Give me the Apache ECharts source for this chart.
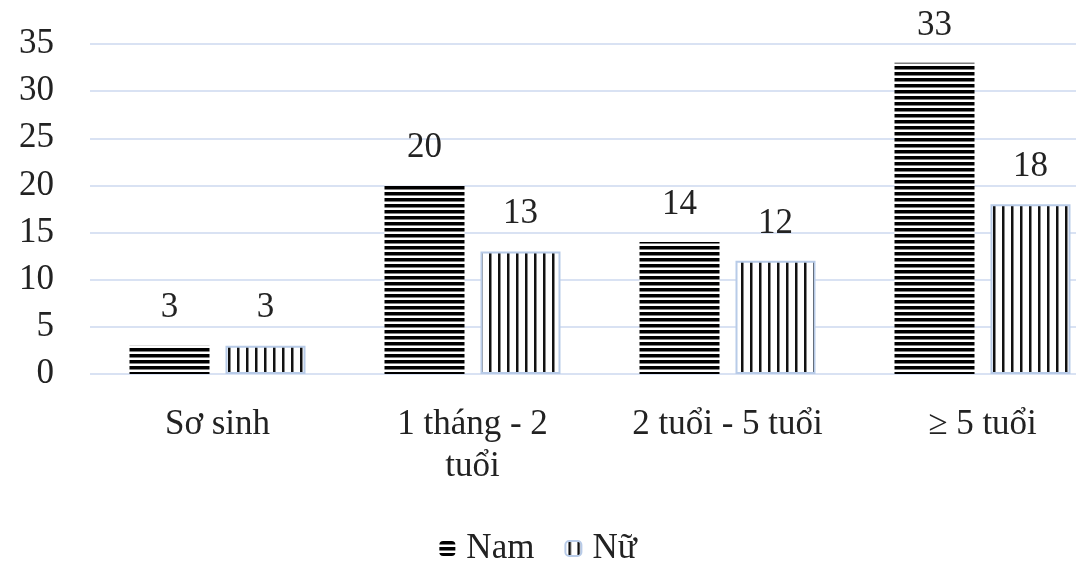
<!DOCTYPE html>
<html><head><meta charset="utf-8">
<script src="https://cdn.jsdelivr.net/npm/echarts@6/dist/echarts.min.js"></script>
<style>html,body{margin:0;padding:0;background:#fff;overflow:hidden}#c{width:1076px;height:561px}</style>
</head><body><div id="c"></div>
<script>
const categories = ['Sơ sinh', '1 tháng - 2\ntuổi', '2 tuổi - 5 tuổi', '≥ 5 tuổi'];
const namValues = [3, 20, 14, 33];
const nuValues = [3, 13, 12, 18];
const seriesNames = ['Nam', 'Nữ'];

function hPattern() {
  const c = document.createElement('canvas');
  c.width = 8; c.height = 6;
  const g = c.getContext('2d');
  g.fillStyle = '#fff'; g.fillRect(0, 0, 8, 6);
  g.fillStyle = '#000'; g.fillRect(0, 0, 8, 3.5);
  return c;
}
function vPattern() {
  const c = document.createElement('canvas');
  c.width = 9; c.height = 8;
  const g = c.getContext('2d');
  g.fillStyle = '#fff'; g.fillRect(0, 0, 9, 8);
  g.fillStyle = '#111'; g.fillRect(3, 0, 2.5, 8);
  return c;
}
const font = '"Liberation Serif", "DejaVu Serif", serif';
const fs = 35;
const chart = echarts.init(document.getElementById('c'));
chart.setOption({
  animation: false,
  textStyle: { fontFamily: font },
  grid: { left: 90, right: -34, top: 44, bottom: 187, outerBoundsMode: 'none', containLabel: false },
  legend: {
    bottom: -10, left: 'center', itemWidth: 16, itemHeight: 15, itemGap: 30,
    textStyle: { fontFamily: font, fontSize: fs, color: '#222', padding: [0, 0, 0, 6] },
    data: seriesNames
  },
  xAxis: {
    type: 'category', data: categories,
    axisLine: { show: false }, axisTick: { show: false },
    axisLabel: { interval: 0, hideOverlap: false, fontFamily: font, fontSize: fs, color: '#222', margin: 30, lineHeight: 42 }
  },
  yAxis: {
    type: 'value', min: 0, max: 35, interval: 5,
    axisLabel: { fontFamily: font, fontSize: fs, color: '#222', margin: 36 },
    splitLine: { lineStyle: { color: '#ccd9ef', width: 1.5 } }
  },
  series: [
    {
      name: seriesNames[0], type: 'bar', data: namValues, barWidth: 80, barGap: '20%',
      itemStyle: { color: { image: hPattern(), repeat: 'repeat' } },
      label: { show: true, position: 'top', distance: 20, fontFamily: font, fontSize: fs, color: '#222' }
    },
    {
      name: seriesNames[1], type: 'bar', data: nuValues, barWidth: 80,
      itemStyle: { color: { image: vPattern(), repeat: 'repeat' }, borderColor: '#b8cbe8', borderWidth: 2 },
      label: { show: true, position: 'top', distance: 20, fontFamily: font, fontSize: fs, color: '#222' }
    }
  ]
});
</script></body></html>
